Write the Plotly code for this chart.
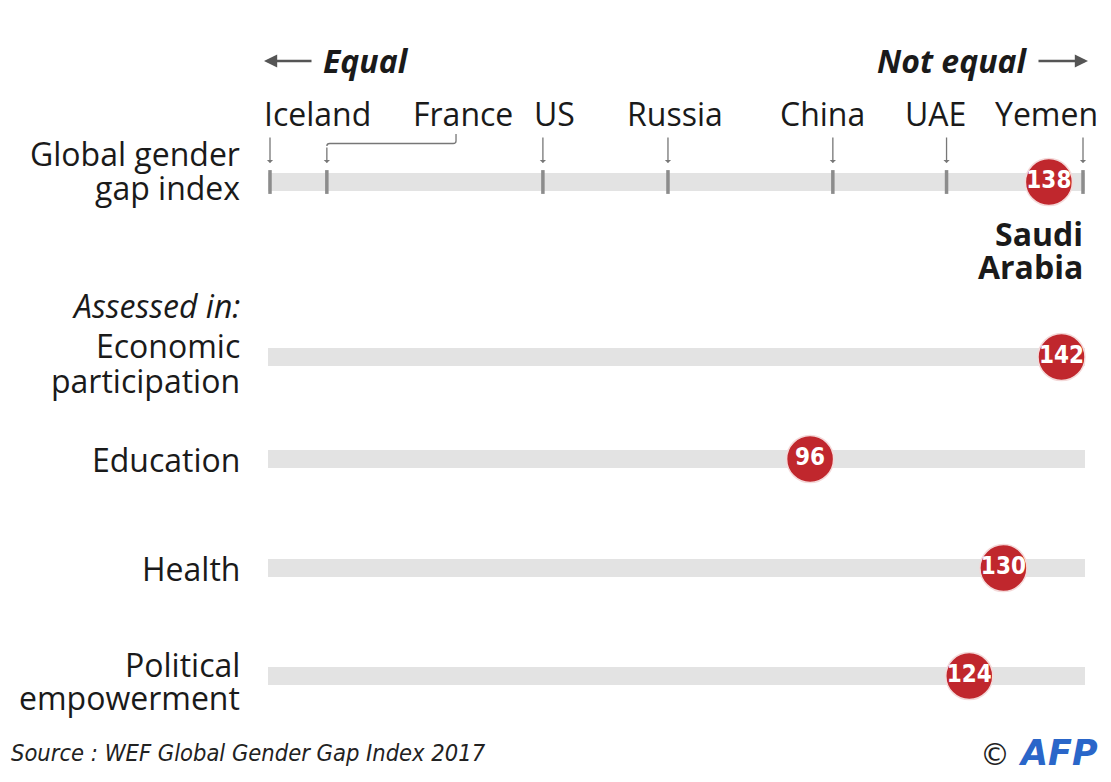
import plotly.graph_objects as go

# ---------------- data ----------------
countries = ["Iceland", "France", "US", "Russia", "China", "UAE", "Yemen"]
country_ranks = [1, 11, 49, 71, 100, 120, 144]
categories = ["Global gender gap index", "Economic participation", "Education",
              "Health", "Political empowerment"]
saudi_ranks = [138, 142, 96, 130, 124]
n_countries = 144

# ---------------- layout constants ----------------
W, H = 1111, 782
OFF = 8                                 # page body margin
FW, FH = W - OFF, H - 2 * OFF           # figure size
PX_FIRST, PX_LAST = 270, 1083           # page pixel of rank 1 and last rank
ppr = (PX_LAST - PX_FIRST) / (n_countries - 1)


def px2x(px):
    return 1 + (px - PX_FIRST) / ppr


def pap(px):
    return (px - OFF) / FW


x_range = [px2x(OFF), px2x(OFF + FW)]
row_y = [182, 357, 459, 568, 676]       # page-pixel rows (y axis in px, reversed)
bar_th = 18
BAR_L, BAR_R = 268, 1085
CIRCLE_D = 47
FONT = "Open Sans"
FS = 32
TXT = "#1a1a1a"
RED = "#c0272d"
GREY_BAR = "#e3e3e3"
TICK = "#8c8c8c"
ARROW = "#777777"

fig = go.Figure()

# background bars
fig.add_trace(go.Bar(
    y=row_y, x=[px2x(BAR_R) - px2x(BAR_L)] * len(row_y), base=px2x(BAR_L),
    orientation="h", width=bar_th, marker=dict(color=GREY_BAR, line=dict(width=0)),
    hoverinfo="skip", showlegend=False))

# country ticks on the global index bar
fig.add_trace(go.Scatter(
    x=country_ranks, y=[row_y[0]] * len(country_ranks), mode="markers",
    marker=dict(symbol="line-ns", size=17, line=dict(color=TICK, width=3.5)),
    hoverinfo="skip", showlegend=False))

# Saudi Arabia rank circles (kept inside the bar end)
x_max_circle = px2x(BAR_R - CIRCLE_D / 2)
circle_x = [min(r, x_max_circle) for r in saudi_ranks]
fig.add_trace(go.Scatter(
    x=circle_x, y=row_y, mode="markers+text",
    marker=dict(size=CIRCLE_D, color=RED, line=dict(color="#f4d9d9", width=1.5)),
    text=[str(v) for v in saudi_ranks], textposition="middle center",
    textfont=dict(family="DejaVu Sans Condensed", size=24, color="white", weight="bold"),
    hoverinfo="skip", showlegend=False))

ann = []


def label(text, x, y, xref="paper", anchor="right", size=FS, **kw):
    ann.append(dict(text=text, x=x, y=y, xref=xref, yref="y", xanchor=anchor,
                    yanchor="middle", showarrow=False,
                    font=dict(family=FONT, size=size, color=TXT), **kw))


# left labels
lx = pap(242)
label("Global gender", lx, 153)
label("gap index", lx, 187)
label("<i>Assessed in:</i>", lx, 305)
label("Economic", lx, 345)
label("participation", lx, 380)
label("Education", lx, 459)
label("Health", lx, 568)
label("Political", lx, 664)
label("empowerment", lx, 697)

# Saudi Arabia label
label("<b>Saudi</b>", pap(1085), 233)
label("<b>Arabia</b>", pap(1085), 266)

# country labels
label_anchor = ["left", "center", "center", "center", "center", "center", "right"]
label_shift = [-8, 136, 12, 7, -10, -11, 17]
for c, r, a, s in zip(countries, country_ranks, label_anchor, label_shift):
    label(c, r, 113, xref="x", anchor=a, xshift=s)

# arrows from labels down to ticks
for c, r in zip(countries, country_ranks):
    top = 146 if c == "France" else 136
    ann.append(dict(x=r, y=163, ax=r, ay=top, xref="x", yref="y", axref="x", ayref="y",
                    text="", showarrow=True, arrowhead=1, arrowsize=0.8,
                    arrowwidth=1.3, arrowcolor=ARROW))

# France elbow connector
fr = country_ranks[1]
fr_lab = px2x(456)
shapes = [dict(type="path", xref="x", yref="y",
               path=f"M {fr_lab:.2f},134 L {fr_lab:.2f},141 Q {fr_lab:.2f},143.5 {fr_lab-0.5:.2f},143.5 "
                    f"L {fr+0.5:.2f},143.5 Q {fr:.2f},143.5 {fr:.2f},146",
               line=dict(color=ARROW, width=1.3))]

# Equal / Not equal headers with arrows
label("<b><i>Equal</i></b>", pap(321), 60, anchor="left")
label("<b><i>Not equal</i></b>", pap(1030), 60, anchor="right")
for tip, tail in [(264, 313), (1088, 1037)]:
    ann.append(dict(x=px2x(tip), y=61, ax=px2x(tail), ay=61, xref="x", yref="y",
                    axref="x", ayref="y", text="", showarrow=True, arrowhead=2,
                    arrowsize=1.1, arrowwidth=2.4, arrowcolor="#555555"))

# source & credit
ann.append(dict(text="<i>Source : WEF Global Gender Gap Index 2017</i>", x=pap(9), y=753,
                xref="paper", yref="y", xanchor="left", yanchor="middle", showarrow=False,
                font=dict(family="DejaVu Sans Condensed", size=23.5, color="#222222")))
ann.append(dict(text="©", x=pap(1012), y=754, xref="paper", yref="y", xanchor="right",
                yanchor="middle", showarrow=False,
                font=dict(family="DejaVu Sans", size=30, color="#222222")))
ann.append(dict(text="<b><i>AFP</i></b>", x=pap(1100), y=753, xref="paper", yref="y",
                xanchor="right", yanchor="middle", showarrow=False,
                font=dict(family="DejaVu Sans", size=35, color="#2a66c9")))

fig.update_layout(
    width=FW, height=FH, margin=dict(l=0, r=0, t=0, b=0),
    paper_bgcolor="white", plot_bgcolor="white",
    xaxis=dict(range=x_range, visible=False, fixedrange=True),
    yaxis=dict(range=[OFF + FH, OFF], visible=False, fixedrange=True),
    annotations=ann, shapes=shapes, bargap=0,
)

fig.write_html("out.html", config={"displayModeBar": False})
